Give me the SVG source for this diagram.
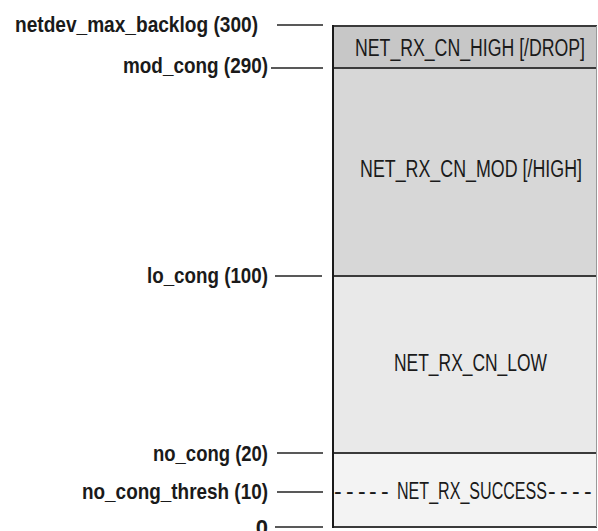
<svg xmlns="http://www.w3.org/2000/svg" width="598" height="531" viewBox="0 0 598 531">
<style>
.lbl{font-family:"Liberation Sans",Arial,sans-serif;font-size:22px;font-weight:bold;fill:#1a1a1a;text-anchor:end}
.bt{font-family:"Liberation Sans",Arial,sans-serif;font-size:23px;fill:#1a1a1a}
.tick{stroke:#222;stroke-width:1.5}
.div{stroke:#3a3a3a;stroke-width:2}
</style>
<rect width="598" height="531" fill="#ffffff"/>
<g id="band-high">
<rect x="333" y="26" width="264" height="42" fill="#c7c7c7"/>
<text class="bt" x="355" y="56" textLength="230" lengthAdjust="spacingAndGlyphs">NET_RX_CN_HIGH [/DROP]</text>
</g>
<g id="band-mod">
<rect x="333" y="68" width="264" height="208" fill="#d7d7d7"/>
<text class="bt" x="360" y="177" textLength="222" lengthAdjust="spacingAndGlyphs">NET_RX_CN_MOD [/HIGH]</text>
</g>
<g id="band-low">
<rect x="333" y="276" width="264" height="177" fill="#e9e9e9"/>
<text class="bt" x="394" y="371" textLength="153" lengthAdjust="spacingAndGlyphs">NET_RX_CN_LOW</text>
</g>
<g id="band-success">
<rect x="333" y="453" width="264" height="74" fill="#f3f3f3"/>
<text class="bt" y="499"><tspan x="334 346 358 369 381">-----</tspan><tspan x="397" textLength="150" lengthAdjust="spacingAndGlyphs">NET_RX_SUCCESS</tspan><tspan x="548 560 572 584">----</tspan></text>
</g>
<g id="box-outline" fill="none">
<line class="div" x1="333" y1="26" x2="597" y2="26"/>
<line class="div" x1="333" y1="68" x2="597" y2="68"/>
<line class="div" x1="333" y1="276" x2="597" y2="276"/>
<line class="div" x1="333" y1="453" x2="597" y2="453"/>
<line class="div" x1="333" y1="527" x2="597" y2="527"/>
<line x1="333" y1="25" x2="333" y2="528" stroke="#1a1a1a" stroke-width="2"/>
<line x1="596.5" y1="26" x2="596.5" y2="527" stroke="#999" stroke-width="1"/>
</g>
<g id="labels">
<text class="lbl" x="258" y="32" textLength="243" lengthAdjust="spacingAndGlyphs">netdev_max_backlog (300)</text>
<text class="lbl" x="268" y="73" textLength="145" lengthAdjust="spacingAndGlyphs">mod_cong (290)</text>
<text class="lbl" x="268" y="283" textLength="121" lengthAdjust="spacingAndGlyphs">lo_cong (100)</text>
<text class="lbl" x="268" y="461" textLength="115" lengthAdjust="spacingAndGlyphs">no_cong (20)</text>
<text class="lbl" x="268" y="499" textLength="186" lengthAdjust="spacingAndGlyphs">no_cong_thresh (10)</text>
<text class="lbl" x="268" y="535">0</text>
</g>
<g id="connectors">
<line class="tick" x1="277" y1="25" x2="323" y2="25"/>
<line class="tick" x1="271" y1="68" x2="323" y2="68"/>
<line class="tick" x1="275" y1="276" x2="322" y2="276"/>
<line class="tick" x1="277" y1="453" x2="323" y2="453"/>
<line class="tick" x1="277" y1="492" x2="323" y2="492"/>
<line class="tick" x1="275" y1="527" x2="323" y2="527"/>
</g>
</svg>
